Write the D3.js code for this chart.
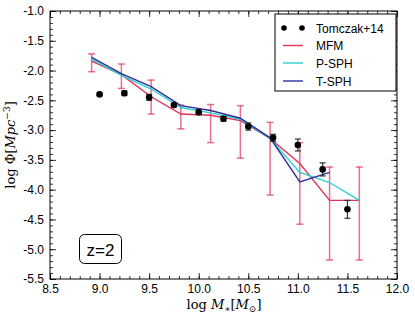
<!DOCTYPE html>
<html><head><meta charset="utf-8">
<script src="https://cdn.jsdelivr.net/npm/d3@7"></script>
<style>body{margin:0;background:#fff}svg{display:block}</style>
</head><body>
<svg id="c" width="415" height="320"></svg>
<script>
// Tomczak+14 observations
const obsX = [9.0, 9.25, 9.5, 9.75, 10.0, 10.25, 10.5, 10.75, 11.0, 11.25, 11.5];
const obsY = [-2.40, -2.38, -2.45, -2.58, -2.70, -2.81, -2.94, -3.13, -3.25, -3.66, -4.33];
const obsErr = [0.02, 0.04, 0.05, 0.03, 0.04, 0.04, 0.06, 0.06, 0.10, 0.11, 0.15];
// simulation bins
const binX = [8.92, 9.22, 9.52, 9.82, 10.12, 10.42, 10.72, 11.02, 11.32, 11.62];
const mfmY = [-1.84, -2.07, -2.44, -2.73, -2.75, -2.84, -3.14, -3.56, -4.18, -4.18];
const mfmLo = [-2.02, -2.30, -2.73, -2.98, -3.21, -3.47, -4.09, -4.58, -5.18, -5.18];
const mfmHi = [-1.72, -1.89, -2.16, -2.58, -2.57, -2.59, -2.87, -3.21, -3.62, -3.62];
const psphY = [-1.81, -2.08, -2.31, -2.62, -2.71, -2.82, -3.14, -3.71, -3.88, -4.18];
const tsphY = [-1.78, -2.05, -2.27, -2.59, -2.67, -2.80, -3.13, -3.87, -3.71];
const xTicks = [8.5, 9.0, 9.5, 10.0, 10.5, 11.0, 11.5, 12.0];
const yTicks = [-1.0, -1.5, -2.0, -2.5, -3.0, -3.5, -4.0, -4.5, -5.0, -5.5];
const legendLabels = ["Tomczak+14", "MFM", "P-SPH", "T-SPH"];
const colors = {mfm: "#e0325a", psph: "#2ad0d0", tsph: "#2e2e9c"};

const svg = d3.select("#c");
const L = 50, R = 397, T = 11, B = 279;
const x = d3.scaleLinear().domain([8.5, 12.0]).range([L, R]);
const y = d3.scaleLinear().domain([-5.5, -1.0]).range([B, T]);
const sans = "'Liberation Sans', Arial, sans-serif";
const serif = "'DejaVu Serif', 'Liberation Serif', serif";

const fmt = d => d.toFixed(1);
const minorX = d3.range(85, 121).map(v => v / 10);
const minorY = d3.range(-55, -9).map(v => v / 10);

function axisGroup(axis, tr) { return svg.append("g").attr("transform", tr).call(axis); }
const ax = [
  axisGroup(d3.axisBottom(x).tickValues(minorX).tickSize(-3).tickFormat(""), `translate(0,${B})`),
  axisGroup(d3.axisBottom(x).tickValues(xTicks).tickSize(-6).tickPadding(5).tickFormat(fmt), `translate(0,${B})`),
  axisGroup(d3.axisTop(x).tickValues(minorX).tickSize(-3).tickFormat(""), `translate(0,${T})`),
  axisGroup(d3.axisTop(x).tickValues(xTicks).tickSize(-6).tickFormat(""), `translate(0,${T})`),
  axisGroup(d3.axisLeft(y).tickValues(minorY).tickSize(-3).tickFormat(""), `translate(${L},0)`),
  axisGroup(d3.axisLeft(y).tickValues(yTicks).tickSize(-6).tickPadding(6).tickFormat(fmt), `translate(${L},0)`),
  axisGroup(d3.axisRight(y).tickValues(minorY).tickSize(-3).tickFormat(""), `translate(${R},0)`),
  axisGroup(d3.axisRight(y).tickValues(yTicks).tickSize(-6).tickFormat(""), `translate(${R},0)`)
];
ax.forEach(g => {
  g.select(".domain").remove();
  g.selectAll("line").attr("stroke", "#000").attr("stroke-width", 0.8);
  g.selectAll("text").attr("font-family", sans).attr("font-size", 12).attr("fill", "#000");
});
svg.append("rect").attr("x", L).attr("y", T).attr("width", R - L).attr("height", B - T)
  .attr("fill", "none").attr("stroke", "#000").attr("stroke-width", 1);

const plot = svg.append("g");
const line = d3.line().x((d, i) => x(binX[i])).y(d => y(d));

// MFM error bars
binX.forEach((bx, i) => {
  const g = plot.append("g").attr("stroke", colors.mfm).attr("stroke-opacity", 0.7).attr("stroke-width", 1.5);
  g.append("line").attr("x1", x(bx)).attr("x2", x(bx)).attr("y1", y(mfmLo[i])).attr("y2", y(mfmHi[i]));
  g.append("line").attr("x1", x(bx) - 3.5).attr("x2", x(bx) + 3.5).attr("y1", y(mfmLo[i])).attr("y2", y(mfmLo[i]));
  g.append("line").attr("x1", x(bx) - 3.5).attr("x2", x(bx) + 3.5).attr("y1", y(mfmHi[i])).attr("y2", y(mfmHi[i]));
});

plot.append("path").datum(mfmY).attr("d", line).attr("fill", "none").attr("stroke", colors.mfm).attr("stroke-width", 1.4);
plot.append("path").datum(psphY).attr("d", line).attr("fill", "none").attr("stroke", colors.psph).attr("stroke-width", 1.4);
plot.append("path").datum(tsphY).attr("d", line).attr("fill", "none").attr("stroke", colors.tsph).attr("stroke-width", 1.4);

// observations
obsX.forEach((ox, i) => {
  const g = plot.append("g").attr("stroke", "#333").attr("stroke-width", 1.2);
  const lo = y(obsY[i] - obsErr[i]), hi = y(obsY[i] + obsErr[i]);
  g.append("line").attr("x1", x(ox)).attr("x2", x(ox)).attr("y1", lo).attr("y2", hi);
  g.append("line").attr("x1", x(ox) - 3).attr("x2", x(ox) + 3).attr("y1", lo).attr("y2", lo);
  g.append("line").attr("x1", x(ox) - 3).attr("x2", x(ox) + 3).attr("y1", hi).attr("y2", hi);
  plot.append("circle").attr("cx", x(ox)).attr("cy", y(obsY[i])).attr("r", 3.3).attr("fill", "#000");
});

// legend
const lg = svg.append("g");
lg.append("rect").attr("x", 275).attr("y", 14).attr("width", 121).attr("height", 77)
  .attr("fill", "#fff").attr("stroke", "#000").attr("stroke-width", 1);
const legY = [28, 45.5, 63, 81];
legendLabels.forEach((lab, i) => {
  if (i === 0) {
    lg.append("circle").attr("cx", 284).attr("cy", legY[i]).attr("r", 2.8).attr("fill", "#000");
    lg.append("circle").attr("cx", 302).attr("cy", legY[i]).attr("r", 2.8).attr("fill", "#000");
  } else {
    const c = [colors.mfm, colors.psph, colors.tsph][i - 1];
    lg.append("line").attr("x1", 283).attr("x2", 303).attr("y1", legY[i]).attr("y2", legY[i])
      .attr("stroke", c).attr("stroke-width", 1.4);
  }
  lg.append("text").attr("x", 316).attr("y", legY[i] + 4.5).attr("font-family", sans)
    .attr("font-size", 12).text(lab);
});

// z=2 box
svg.append("rect").attr("x", 79.5).attr("y", 234.5).attr("width", 42).attr("height", 29).attr("rx", 5)
  .attr("fill", "#fff").attr("stroke", "#000").attr("stroke-width", 1);
svg.append("text").attr("x", 100.5).attr("y", 255.5).attr("text-anchor", "middle")
  .attr("font-family", sans).attr("font-size", 17).text("z=2");

// axis labels
const xl = svg.append("text").attr("x", 224).attr("y", 309).attr("text-anchor", "middle")
  .attr("font-family", serif).attr("font-size", 13);
xl.append("tspan").text("log ");
xl.append("tspan").attr("font-style", "italic").text("M");
xl.append("tspan").attr("font-size", 9).attr("dy", 3).text("∗");
xl.append("tspan").attr("dy", -3).text("[");
xl.append("tspan").attr("font-style", "italic").text("M");
xl.append("tspan").attr("font-size", 9).attr("dy", 3).text("⊙");
xl.append("tspan").attr("dy", -3).text("]");

const yl = svg.append("text").attr("transform", `translate(15,${(T + B) / 2}) rotate(-90)`)
  .attr("text-anchor", "middle").attr("font-family", serif).attr("font-size", 13);
yl.append("tspan").text("log Φ[");
yl.append("tspan").attr("font-style", "italic").text("Mpc");
yl.append("tspan").attr("font-size", 9).attr("dy", -5).text("−3");
yl.append("tspan").attr("dy", 5).text("]");
</script>
</body></html>
